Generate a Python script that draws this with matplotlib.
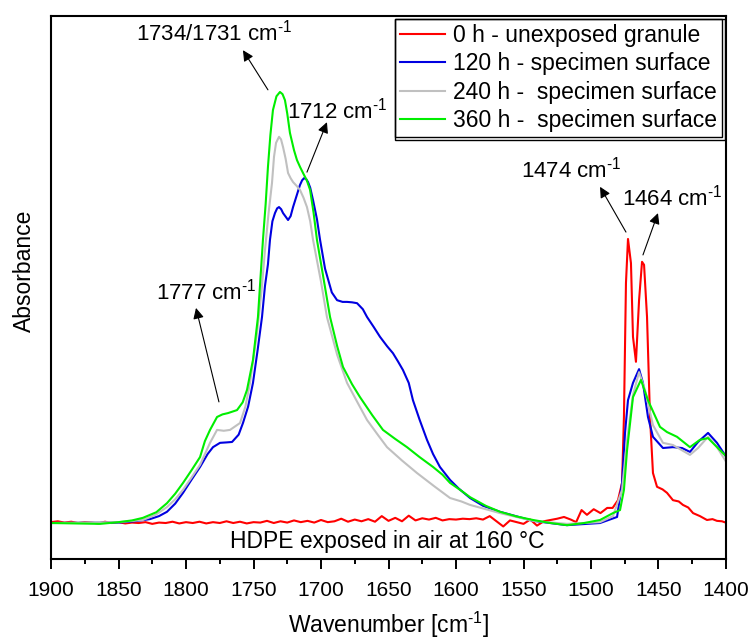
import matplotlib
matplotlib.use("Agg")
import matplotlib.pyplot as plt
from matplotlib.patches import Rectangle

plt.rcParams["font.family"] = ["Liberation Sans", "DejaVu Sans"]
plt.rcParams["mathtext.fontset"] = "custom"
plt.rcParams["mathtext.rm"] = "Liberation Sans"
plt.rcParams["mathtext.it"] = "Liberation Sans"

# ---- DATA (absorbance in arbitrary units) ----
wn_0h = [1900, 1895, 1890, 1885, 1880, 1875, 1870, 1865, 1860, 1855, 1850, 1845,
         1840, 1835, 1830, 1825, 1820, 1815, 1810, 1805, 1800, 1795, 1790, 1785,
         1780, 1775, 1770, 1765, 1760, 1755, 1750, 1745, 1740, 1735, 1730, 1725,
         1720, 1715, 1710, 1705, 1700, 1695, 1690, 1685, 1680, 1675, 1670, 1665,
         1660, 1655, 1650, 1645, 1640, 1635, 1630, 1625, 1620, 1615, 1610, 1605,
         1600, 1595, 1590, 1585, 1580, 1575, 1570, 1565, 1560, 1555, 1550, 1545,
         1540, 1535, 1530, 1525, 1520, 1515, 1511, 1507, 1503, 1498, 1493, 1488,
         1484, 1480, 1477, 1475.6, 1474.1, 1472.6, 1470.4, 1468.9, 1466.7, 1464.4,
         1462.2, 1460.7, 1458.5, 1456.3, 1454.1, 1451.1, 1447, 1443.7, 1439.3,
         1435, 1431.9, 1428, 1424.4, 1419.3, 1414.1, 1410, 1406.7, 1403, 1399.3]
abs_0h = [0.002, 0.004, 0.001, 0.003, 0.000, 0.002, 0.001, -0.001, 0.003, 0.000, 0.002, -0.001,
          0.001, 0.000, 0.002, -0.002, 0.001, 0.000, 0.003, -0.001, 0.002, 0.000, 0.003, -0.001,
          0.002, 0.000, 0.004, 0.000, 0.003, -0.001, 0.002, 0.001, 0.005, 0.000, 0.004, 0.001,
          0.006, 0.002, 0.005, 0.001, 0.007, 0.002, 0.004, 0.010, 0.003, 0.008, 0.004, 0.009,
          0.003, 0.016, 0.005, 0.012, 0.004, 0.017, 0.006, 0.011, 0.008, 0.012, 0.006, 0.009,
          0.008, 0.010, 0.009, 0.011, 0.008, 0.016, 0.004, -0.008, 0.006, 0.002, -0.002, 0.008,
          -0.006, 0.004, 0.007, 0.010, 0.014, 0.008, 0.002, 0.030, 0.019, 0.032, 0.023, 0.035,
          0.035, 0.053, 0.093, 0.246, 0.557, 0.659, 0.603, 0.432, 0.374, 0.517,
          0.606, 0.599, 0.478, 0.246, 0.116, 0.084, 0.078, 0.070, 0.053,
          0.050, 0.042, 0.036, 0.023, 0.016, 0.007, 0.009, 0.005, 0.004, 0.000]

wn_120h = [1900, 1850, 1838, 1826.7, 1820, 1814.1, 1808, 1802.2, 1796, 1789.6,
           1784, 1780.0, 1774.8, 1770, 1765.9, 1761, 1757.8, 1754, 1750.4, 1747,
           1743.7, 1741.5, 1739.3, 1737.8, 1736, 1734.1, 1732.5, 1731.1, 1729.5, 1728.1,
           1726, 1724.4, 1722.5, 1720.7, 1718, 1715.6, 1714, 1712.6, 1711, 1709.6,
           1708, 1705.9, 1703, 1700.7, 1697, 1692, 1688.1, 1684, 1680.7, 1677,
           1673.3, 1669, 1665.9, 1661, 1656.3, 1651, 1646.7, 1643, 1639.3, 1635,
           1631.9, 1627, 1621.5, 1617, 1611.9, 1604.4, 1598, 1589.6, 1580, 1567.4,
           1542.9, 1517.8, 1493.3, 1480.7, 1477.0, 1474.8, 1472.6, 1468.9, 1464.4, 1461.5,
           1457.8, 1454.1, 1446.7, 1439.3, 1432.6, 1426.7, 1420.7, 1413.3, 1406.7, 1399.3]
abs_120h = [0.000, 0.001, 0.004, 0.009, 0.016, 0.026, 0.045, 0.070, 0.100, 0.130,
            0.160, 0.176, 0.186, 0.187, 0.188, 0.205, 0.232, 0.270, 0.325, 0.400,
            0.478, 0.550, 0.600, 0.657, 0.700, 0.719, 0.730, 0.733, 0.728, 0.719,
            0.710, 0.703, 0.712, 0.733, 0.760, 0.784, 0.795, 0.800, 0.798, 0.791,
            0.778, 0.749, 0.705, 0.657, 0.590, 0.535, 0.517, 0.513, 0.513, 0.512,
            0.510, 0.496, 0.478, 0.455, 0.432, 0.410, 0.394, 0.375, 0.355, 0.325,
            0.285, 0.240, 0.193, 0.160, 0.130, 0.100, 0.080, 0.058, 0.040, 0.026,
            0.005, -0.005, 0.000, 0.014, 0.093, 0.209, 0.285, 0.325, 0.357, 0.325,
            0.246, 0.200, 0.174, 0.176, 0.174, 0.165, 0.188, 0.209, 0.186, 0.151]

wn_240h = [1900, 1850, 1831.9, 1822, 1814.1, 1808, 1802.2, 1796, 1789.6, 1782.2,
           1777.0, 1772, 1767.4, 1760.0, 1756, 1752.6, 1747.4, 1744, 1741.5, 1738.8,
           1736.3, 1734.8, 1733.3, 1731.1, 1729.6, 1728.1, 1726.2, 1724.4, 1722.5, 1720.7,
           1718, 1715.6, 1713, 1710.4, 1708, 1705.9, 1700, 1695.6, 1688, 1680.7,
           1673, 1665.9, 1658, 1651.1, 1640, 1628.9, 1616, 1604.4, 1596, 1589.6,
           1567.4, 1542.9, 1517.8, 1493.3, 1483.7, 1477.0, 1473.3, 1468.9, 1464.4, 1460.0,
           1454.1, 1446.7, 1439.3, 1426.7, 1420.7, 1413.3, 1406.7, 1399.3]
abs_240h = [0.000, 0.002, 0.007, 0.020, 0.037, 0.055, 0.077, 0.105, 0.135, 0.186,
            0.216, 0.214, 0.216, 0.232, 0.270, 0.325, 0.441, 0.540, 0.633, 0.720,
            0.789, 0.850, 0.882, 0.896, 0.890, 0.872, 0.845, 0.812, 0.800, 0.791,
            0.782, 0.773, 0.755, 0.733, 0.700, 0.657, 0.560, 0.478, 0.390, 0.325,
            0.280, 0.239, 0.205, 0.176, 0.145, 0.116, 0.085, 0.058, 0.050, 0.042,
            0.023, 0.005, -0.002, 0.002, 0.016, 0.077, 0.193, 0.297, 0.350, 0.309,
            0.227, 0.186, 0.181, 0.158, 0.174, 0.200, 0.176, 0.139]

wn_360h = [1900, 1863.7, 1850, 1840, 1831.9, 1822, 1814.1, 1808, 1802.2, 1796,
           1789.6, 1786, 1782.2, 1777.0, 1773, 1768.9, 1762.2, 1758, 1754.8, 1750.4,
           1746.7, 1743.0, 1741, 1739.3, 1737.5, 1735.6, 1733, 1730.4, 1728.5, 1726.7,
           1725, 1723.0, 1720, 1717.8, 1715.5, 1713.3, 1710.5, 1708.1, 1705.5, 1703.0,
           1698, 1693.3, 1688, 1683.7, 1677, 1671.1, 1662, 1654.1, 1645, 1636.3,
           1627, 1617.0, 1610, 1604.4, 1597, 1589.6, 1578, 1567.4, 1555, 1542.9,
           1530, 1517.8, 1505, 1493.3, 1483.7, 1478.5, 1475.6, 1473.3, 1468.9, 1463.0,
           1457.8, 1448.9, 1443.7, 1436.3, 1426.7, 1419.3, 1413.3, 1399.3]
abs_360h = [0.000, -0.002, 0.002, 0.006, 0.012, 0.025, 0.046, 0.068, 0.093, 0.122,
            0.153, 0.190, 0.216, 0.246, 0.252, 0.255, 0.262, 0.280, 0.309, 0.378,
            0.478, 0.657, 0.740, 0.826, 0.900, 0.958, 0.990, 1.000, 0.995, 0.981,
            0.950, 0.905, 0.865, 0.842, 0.826, 0.812, 0.795, 0.773, 0.720, 0.657,
            0.565, 0.478, 0.410, 0.362, 0.322, 0.292, 0.250, 0.216, 0.195, 0.176,
            0.153, 0.130, 0.112, 0.093, 0.077, 0.060, 0.040, 0.026, 0.015, 0.007,
            0.000, -0.005, 0.000, 0.007, 0.023, 0.030, 0.077, 0.169, 0.292, 0.332,
            0.285, 0.223, 0.211, 0.200, 0.176, 0.193, 0.197, 0.153]

labels = ["0 h - unexposed granule", "120 h - specimen surface",
          "240 h -  specimen surface", "360 h -  specimen surface"]
colors = ["#ff0000", "#0000e0", "#c0c0c0", "#00ee00"]

# peak labels: (text, text pos, arrow tail, arrow head)
peak_notes = [
    ("1734/1731 cm$^{\\text{-1}}$", (1779.3, 1.137), (1739.3, 1.005), (1757.8, 1.097)),
    ("1712 cm$^{\\text{-1}}$", (1687.8, 0.958), (1710.4, 0.814), (1695.6, 0.930)),
    ("1777 cm$^{\\text{-1}}$", (1784.8, 0.536), (1775.6, 0.281), (1792.6, 0.499)),
    ("1474 cm$^{\\text{-1}}$", (1514.4, 0.819), (1474.1, 0.675), (1493.3, 0.780)),
    ("1464 cm$^{\\text{-1}}$", (1439.6, 0.756), (1461.5, 0.622), (1450.4, 0.719)),
]

fig = plt.figure(figsize=(7.54, 6.39), dpi=100)
ax = fig.add_axes([51 / 754, 1 - 559 / 639, 675 / 754, 543 / 639])

series = [(wn_0h, abs_0h), (wn_120h, abs_120h), (wn_240h, abs_240h), (wn_360h, abs_360h)]
for (x, y), lab, c in zip(series, labels, colors):
    ax.plot(x, y, color=c, lw=1.5, label=lab)

ax.set_xlim(1900, 1400)
ax.set_ylim(-0.0835, 1.1763)
ax.set_xticks(range(1900, 1399, -50))
ax.set_xticks(range(1875, 1400, -50), minor=True)
ax.set_yticks([])
ax.tick_params(axis="x", which="major", direction="out", length=7.5, width=1.4,
               labelsize=15, pad=8)
ax.tick_params(axis="x", which="minor", direction="out", length=3.5, width=1.4)
for s in ax.spines.values():
    s.set_linewidth(1.5)

ax.set_xlabel("Wavenumber [cm$^{\\text{-1}}$]", fontsize=16.5, va="center")
ax.xaxis.set_label_coords(0.5, (559 - 625) / 543)
ax.set_ylabel("Absorbance", fontsize=16.5, va="center")
ax.yaxis.set_label_coords((24 - 51) / 675, (559 - 271) / 543)

for txt, tpos, tail, head in peak_notes:
    ax.text(tpos[0], tpos[1], txt, fontsize=16, ha="center", va="center")
    ax.annotate("", xy=head, xytext=tail,
                arrowprops=dict(arrowstyle="-|>", color="black", lw=0.8,
                                mutation_scale=16, shrinkA=0, shrinkB=0))

ax.text(1651, -0.044, "HDPE exposed in air at 160 °C", fontsize=16.5,
        ha="center", va="center")

leg = ax.legend(loc="upper right", bbox_to_anchor=(0.994, 0.9945), fontsize=16.5,
                frameon=True, fancybox=False, edgecolor="black", framealpha=1,
                borderaxespad=0, handlelength=2.0, handletextpad=0.35,
                borderpad=0.2, labelspacing=0.24)
leg.get_frame().set_linewidth(1.0)

# second frame line, like the original legend box
fig.canvas.draw()
bb = leg.get_window_extent().transformed(fig.transFigure.inverted())
fig.patches.append(Rectangle((bb.x0, bb.y0 - 3 / 639), bb.width + 3 / 754, bb.height + 3 / 639,
                             transform=fig.transFigure, fill=False, lw=1.0,
                             edgecolor="black", zorder=10))

plt.savefig("out.png", dpi=100)
plt.close()
